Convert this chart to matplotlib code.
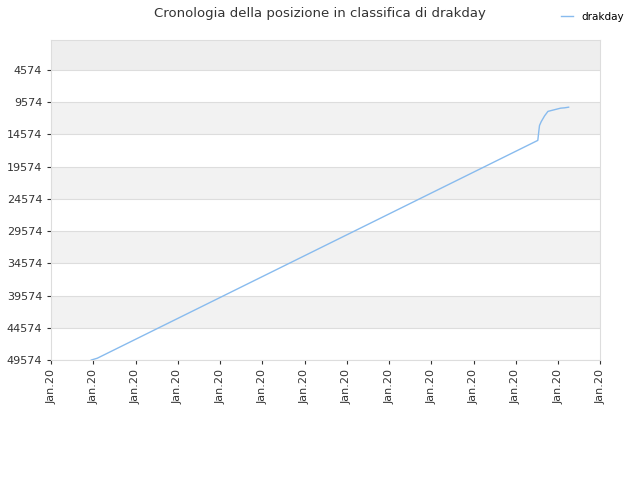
import matplotlib
matplotlib.use('Agg')
import matplotlib.pyplot as plt

# positions in "tick units" (0..13), ranks
pos_x = [0.95, 1.09, 11.52, 11.54, 11.56, 11.60, 11.68, 11.76, 11.94, 12.06, 12.15, 12.25]
rank = [49574, 49300, 15500, 14300, 13200, 12600, 11700, 11000, 10700, 10500, 10450, 10350]
yticks = [4574, 9574, 14574, 19574, 24574, 29574, 34574, 39574, 44574, 49574]
xlabels = ['Jan.20'] * 14

fig = plt.figure(figsize=(6.4, 4.8), dpi=100)
ax = fig.add_axes([0.08, 0.25, 0.858, 0.667])
top = -100
ax.set_ylim(49574, top)
ax.set_xlim(0, 13)

bounds = [top] + yticks
for i in range(len(bounds) - 1):
    if i % 2 == 0:
        ax.axhspan(bounds[i], bounds[i + 1], color='#eeeeee' if i == 0 else '#f2f2f2', zorder=0, lw=0)
for y in yticks:
    ax.axhline(y, color='#dddddd', lw=0.8, zorder=1)

ax.plot(pos_x, rank, color='#88bbee', lw=1, label='drakday', zorder=3)

ax.set_yticks(yticks)
ax.set_xticks(range(14))
ax.set_xticklabels(xlabels, rotation=90)
ax.tick_params(labelsize=8, colors='#333333', length=3)
for s in ax.spines.values():
    s.set_color('#dddddd')

fig.suptitle('Cronologia della posizione in classifica di drakday', fontsize=9.5, color='#333333', y=0.985)
fig.legend(loc='upper right', bbox_to_anchor=(0.99, 0.995), frameon=False, fontsize=7.5, handlelength=1.2)
fig.savefig('out.png')
